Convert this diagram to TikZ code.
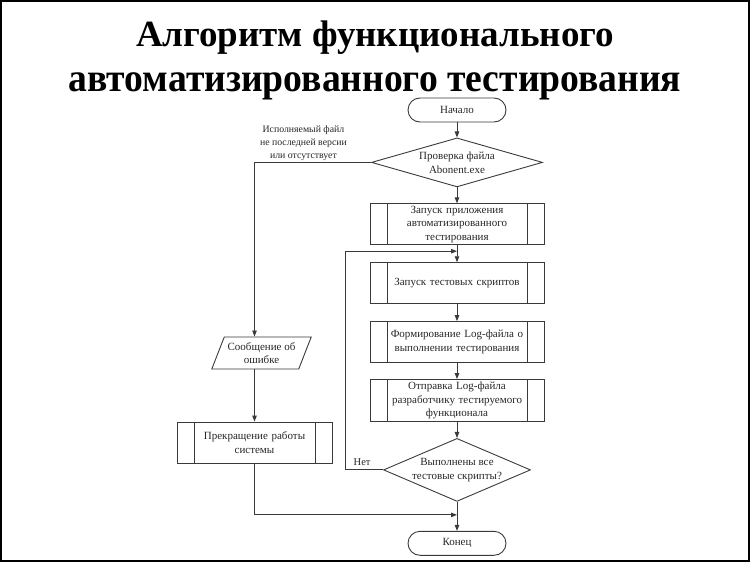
\documentclass[tikz,border=0pt]{standalone}
\usepackage{fontspec}
\setmainfont{Liberation Serif}
\newfontfamily\titlenarrow[FakeStretch=0.94]{Liberation Serif}
\usetikzlibrary{positioning,shapes.geometric,arrows.meta,calc}
\definecolor{FlowInk}{HTML}{262626}
\definecolor{FlowLine}{HTML}{3A3A3A}

\tikzset{
  title text/.style={
    font=\fontsize{37}{45}\selectfont\bfseries,
    text=black,
    inner sep=0pt
  },
  terminal/.style={
    rectangle,
    rounded corners=12pt,
    draw=FlowLine,
    line width=0.9pt,
    minimum width=98pt,
    minimum height=24pt,
    text=FlowInk,
    font=\fontsize{11}{13}\selectfont
  },
  decision/.style={
    diamond,
    draw=FlowLine,
    line width=0.9pt,
    inner sep=0pt,
    align=center,
    text=FlowInk,
    font=\fontsize{11}{14}\selectfont
  },
  subproc/.style={
    rectangle,
    draw=FlowLine,
    line width=0.9pt,
    minimum width=174pt,
    minimum height=41pt,
    text width=144pt,
    inner ysep=1pt,
    align=center,
    text=FlowInk,
    font=\fontsize{11}{13.5}\selectfont,
    path picture={
      \draw[FlowLine, line width=0.9pt]
        ([xshift=17pt]path picture bounding box.north west) -- ([xshift=17pt]path picture bounding box.south west)
        ([xshift=-17pt]path picture bounding box.north east) -- ([xshift=-17pt]path picture bounding box.south east);
    }
  },
  ioshape/.style={
    trapezium,
    trapezium left angle=62,
    trapezium right angle=118,
    trapezium stretches body,
    draw=FlowLine,
    line width=0.9pt,
    minimum width=93pt,
    minimum height=32pt,
    inner ysep=1pt,
    align=center,
    text=FlowInk,
    font=\fontsize{11}{13.5}\selectfont
  },
  flowarrow/.style={
    draw=FlowLine,
    line width=0.9pt,
    -{Triangle[length=6pt,width=4.5pt]}
  },
  note text/.style={
    text=FlowInk,
    align=center,
    font=\fontsize{9.8}{12.8}\selectfont
  }
}

\begin{document}
\begin{tikzpicture}[x=1pt,y=-1pt]
  \useasboundingbox (0,0) rectangle (750,562);
  \draw[line width=2pt, black] (1,1) rectangle (749,561);

  \node[title text, anchor=base] (titleA) at (375,46) {Алгоритм функционального};
  \node[title text, font=\fontsize{40}{45}\titlenarrow\bfseries, anchor=base] (titleB) at (375,91) {автоматизированного тестирования};

  \node[terminal] (start) at (457,110) {Начало};
  \node[
    decision,
    aspect=3.5,
    minimum width=171pt,
    minimum height=49pt,
    below=15pt of start
  ] (check) {Проверка файла\\Abonent.exe};
  \node[subproc, below=16pt of check] (launch) {Запуск приложения\\автоматизированного\\тестирования};
  \node[subproc, below=17pt of launch] (scripts) {Запуск тестовых скриптов};
  \node[subproc, below=17pt of scripts] (logfile) {Формирование Log-файла о\\выполнении тестирования};
  \node[subproc, minimum height=42pt, below=16pt of logfile] (sendlog) {Отправка Log-файла\\разработчику тестируемого\\функционала};
  \node[
    decision,
    aspect=2.3,
    minimum width=147pt,
    minimum height=63pt,
    below=16pt of sendlog
  ] (alldone) {Выполнены все\\тестовые скрипты?};
  \node[terminal, below=29pt of alldone] (finish) {Конец};

  \node[ioshape] (errmsg) at (261.5,353) {Сообщение об\\ошибке};
  \node[subproc, minimum width=155pt, text width=120pt] (halt) at (254.5,442.5) {Прекращение работы\\системы};

  \coordinate (loopin) at ($(launch.south)!0.35!(scripts.north)$);
  \coordinate (joinin) at ($(alldone.south)!0.45!(finish.north)$);

  \draw[flowarrow] (start) -- (check);
  \draw[flowarrow] (check) -- (launch);
  \draw[flowarrow] (launch) -- (scripts);
  \draw[flowarrow] (scripts) -- (logfile);
  \draw[flowarrow] (logfile) -- (sendlog);
  \draw[flowarrow] (sendlog) -- (alldone);
  \draw[flowarrow] (alldone) -- (finish);

  \draw[flowarrow] (check.west) -| node[note text, pos=0.29, above=-2pt]{Исполняемый файл\\не последней версии\\или отсутствует} (errmsg.north -| halt.north);
  \draw[flowarrow] (errmsg.south -| halt.north) -- (halt.north);
  \draw[flowarrow] (halt.south) |- (joinin);

  \draw[flowarrow] (alldone.west) -- ++(-38,0) node[note text, font=\fontsize{10.5}{12}\selectfont, pos=0.55, above=1pt]{Нет} |- (loopin);
\end{tikzpicture}
\end{document}
